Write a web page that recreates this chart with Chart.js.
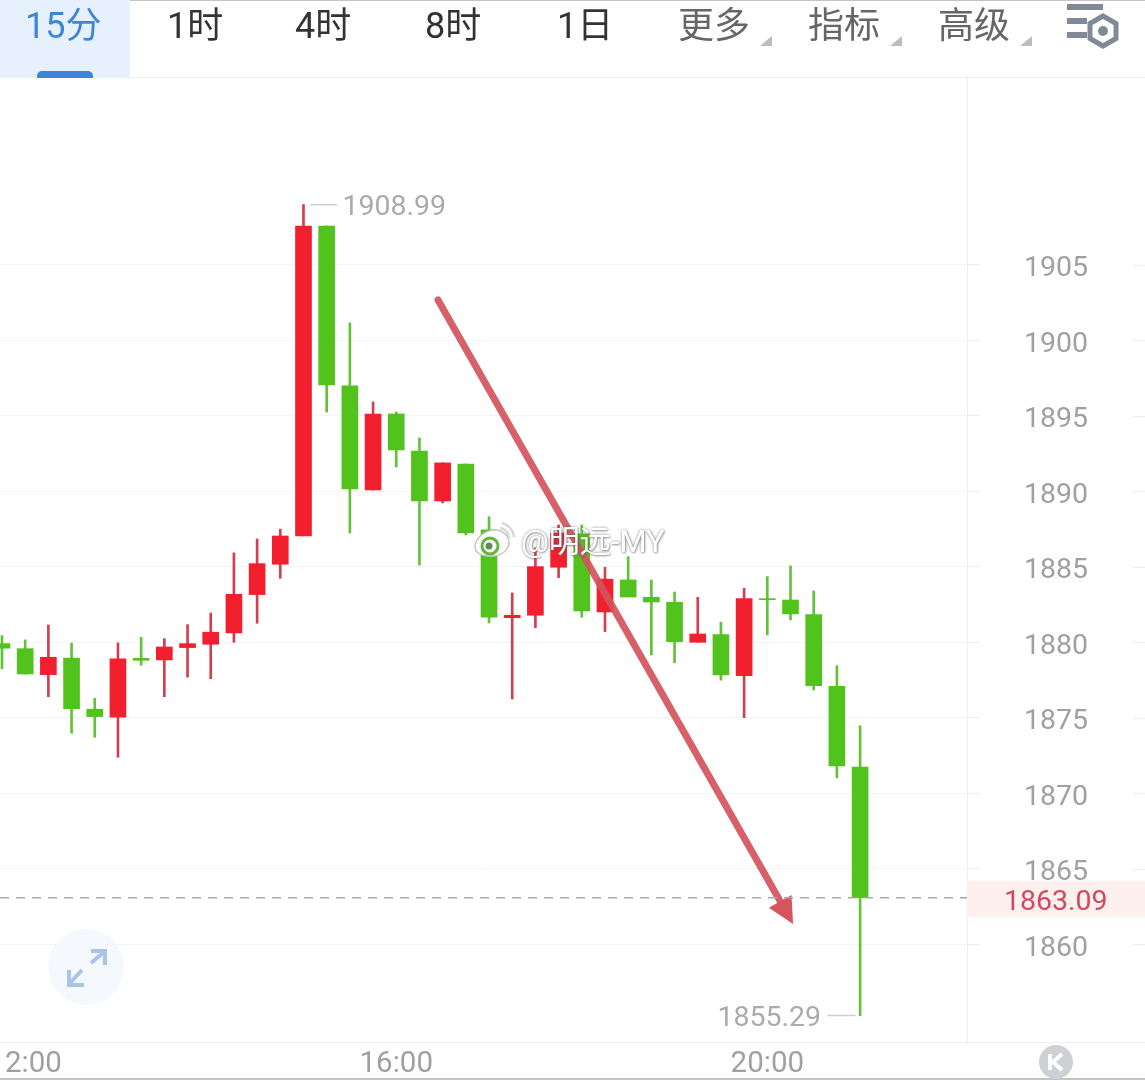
<!DOCTYPE html>
<html lang="zh">
<head>
<meta charset="utf-8">
<title>15分 K线</title>
<script src="https://cdn.jsdelivr.net/npm/chart.js@4"></script>
<style>
  html, body { margin: 0; padding: 0; background: #fff; }
  #page { position: relative; width: 1145px; height: 1080px; overflow: hidden; font-family: Roboto, "Noto Sans CJK SC", sans-serif; }
  canvas { position: absolute; left: 0; top: 0; }
  .tab { position: absolute; top: 0; font-size: 36px; line-height: 52px; font-weight: 400; color: #333; white-space: nowrap; }
  .tab.more { color: #666; }
  .tab.active { color: #3d86d6; }
  #activeBg { position: absolute; left: 0; top: 0; width: 130px; height: 78px; background: #e6f1fd; }
  #activeBar { position: absolute; left: 37px; top: 71px; width: 56px; height: 7px; background: #3f83dc; border-radius: 5px 5px 0 0; }
  #topLine { position: absolute; left: 0; top: 0; width: 1145px; height: 1px; background: #c4c4c4; }
  #bottomLine { position: absolute; left: 0; top: 1078px; width: 1145px; height: 2px; background: #c4c4c4; }
  #mark { position: absolute; left: 521px; top: 522px; font-size: 31px; line-height: 40px; color: #fff; white-space: nowrap;
          text-shadow: 0 0 3px rgba(90,90,90,.7), 1px 1px 2px rgba(90,90,90,.45); }
  svg { position: absolute; left: 0; top: 0; }
</style>
</head>
<body>
<div id="page">
  <canvas id="kline" width="1145" height="1080"></canvas>
  <div id="topLine"></div>
  <div id="bottomLine"></div>
  <div id="activeBg"></div>
  <div id="activeBar"></div>
  <span class="tab active" style="left:25px">15分</span>
  <span class="tab" style="left:167px">1时</span>
  <span class="tab" style="left:295px">4时</span>
  <span class="tab" style="left:425px">8时</span>
  <span class="tab" style="left:557px">1日</span>
  <span class="tab more" style="left:678px">更多</span>
  <span class="tab more" style="left:808px">指标</span>
  <span class="tab more" style="left:938px">高级</span>
  <svg width="1145" height="1080" viewBox="0 0 1145 1080">
    <g fill="#bdbdbd">
      <path d="M772 36V46H760Z"/><path d="M902 36V46H890Z"/><path d="M1032 36V46H1020Z"/>
    </g>
    <g fill="#7f8a96">
      <rect x="1067" y="4" width="36" height="6"/>
      <rect x="1067" y="18" width="20" height="6"/>
      <rect x="1067" y="32" width="20" height="6"/>
    </g>
    <path d="M1103 16L1116 23.500V38.500L1103 46L1090 38.500V23.500Z" fill="none" stroke="#7f8a96" stroke-width="5"/>
    <circle cx="1103" cy="31" r="5" fill="#7f8a96"/>
    <circle cx="86" cy="967" r="38" fill="#f5f8fd"/>
    <g fill="none" stroke="#a9c4e8" stroke-width="4">
      <path d="M91 963L104 952M91 951H105V965"/>
      <path d="M82 970L70 983M69 970V985H84"/>
    </g>
    <circle cx="1056" cy="1062" r="17" fill="#cfd0d4"/>
    <path d="M1050 1054V1070M1062 1054L1053 1062L1062 1070" fill="none" stroke="#fff" stroke-width="4"/>
    <!-- weibo logo of the watermark -->
    <g>
      <path d="M475 547C475 537 487 529 497 530C507 532 511 540 508 547C504 555 495 557 487 556C480 555 475 552 475 547Z" fill="#fff" stroke="#c4c4c4" stroke-width="1.500"/>
      <circle cx="490" cy="546" r="8" fill="#fff" stroke="#63b53d" stroke-width="3"/>
      <circle cx="489" cy="546" r="3.500" fill="#5f8f4a"/>
      <path d="M500 528A10 10 0 0 1 509 538M502 523A16 16 0 0 1 514 537" fill="none" stroke="#d8d8d8" stroke-width="2.500"/>
    </g>
  </svg>
  <span id="mark">@明远-MY</span>
</div>
<script>
var timeLabels = ["12:00", "16:00", "20:00"];
var timeTickIndex = [1, 17, 33];
var priceTicks = [1860, 1865, 1870, 1875, 1880, 1885, 1890, 1895, 1900, 1905];

// 15 minute candles
var opens = [1879.92, 1879.59, 1877.87, 1878.97, 1875.58, 1875.05, 1878.95, 1878.84, 1879.66, 1879.88,
  1880.63, 1883.17, 1885.18, 1887.05, 1907.58, 1896.99, 1890.10, 1895.13, 1892.68, 1889.37,
  1891.82, 1887.45, 1881.64, 1881.80, 1884.98, 1887.19, 1882.02, 1884.14, 1882.99, 1882.66,
  1880.01, 1880.52, 1877.80, 1882.90, 1882.81, 1881.84, 1877.10, 1871.75];
var highs = [1880.45, 1880.17, 1881.16, 1879.95, 1876.30, 1879.97, 1880.34, 1880.25, 1881.18, 1881.95,
  1885.93, 1886.85, 1887.50, 1908.99, 1907.58, 1901.16, 1895.93, 1895.26, 1893.54, 1891.89,
  1891.82, 1888.33, 1883.28, 1886.26, 1887.78, 1887.78, 1884.98, 1885.68, 1884.14, 1883.34,
  1882.99, 1881.34, 1883.59, 1884.36, 1885.07, 1883.41, 1878.46, 1874.47];
var lows = [1878.25, 1877.91, 1876.41, 1873.99, 1873.72, 1872.40, 1878.49, 1876.41, 1877.70, 1877.60,
  1880.01, 1881.27, 1884.25, 1887.05, 1895.26, 1887.25, 1890.10, 1891.62, 1885.13, 1889.24,
  1887.12, 1881.29, 1876.26, 1880.98, 1884.29, 1881.67, 1880.72, 1883.01, 1879.17, 1878.66,
  1880.01, 1877.50, 1875.02, 1880.50, 1881.49, 1876.85, 1871.03, 1855.29];
var closes = [1879.62, 1877.91, 1879.02, 1875.62, 1875.09, 1878.91, 1878.82, 1879.70, 1879.92, 1880.68,
  1883.19, 1885.22, 1887.05, 1907.58, 1897.05, 1890.17, 1895.13, 1892.75, 1889.37, 1891.89,
  1887.25, 1881.67, 1881.80, 1885.02, 1887.25, 1882.09, 1884.19, 1883.01, 1882.68, 1880.05,
  1880.56, 1877.85, 1882.90, 1882.83, 1881.89, 1877.14, 1871.82, 1863.09];

var lastPrice = 1863.09;
var highIndex = 13, highPrice = 1908.99;
var lowIndex = 37, lowPrice = 1855.29;
// hand drawn arrow, in candle index / price
var arrowFrom = [18.80, 1902.68];
var arrowTo = [34.11, 1861.36];

var UP = "#f2202f", DOWN = "#51c31c", UP_WICK = "#d2404f", DOWN_WICK = "#62c23a";
var LABEL = "#a0a0a0";
var FONT = "400 28.5px Roboto";

function isUp(i) { return closes[i] >= opens[i]; }

var overlay = {
  id: "overlay",
  beforeDatasetsDraw: function (chart) {
    var c = chart.ctx, y = chart.scales.y, area = chart.chartArea;
    // axis line along the bottom and short ticks on the right edge
    c.save();
    c.strokeStyle = "#eeeeee";
    c.lineWidth = 1;
    c.beginPath();
    c.moveTo(0, area.bottom + 0.5);
    c.lineTo(1145, area.bottom + 0.5);
    c.moveTo(0, area.top - 0.5);
    c.lineTo(1145, area.top - 0.5);
    priceTicks.forEach(function (p) {
      var py = Math.round(y.getPixelForValue(p)) + 0.5;
      c.moveTo(1133, py);
      c.lineTo(1145, py);
    });
    c.stroke();
    c.restore();
  },
  afterDatasetsDraw: function (chart) {
    var c = chart.ctx, x = chart.scales.x, y = chart.scales.y;
    var x0 = x.getPixelForValue(arrowFrom[0]), y0 = y.getPixelForValue(arrowFrom[1]);
    var x1 = x.getPixelForValue(arrowTo[0]), y1 = y.getPixelForValue(arrowTo[1]);
    var ang = Math.atan2(y1 - y0, x1 - x0);
    var headLen = 26, headHalf = 13;
    var bx = x1 - Math.cos(ang) * headLen, by = y1 - Math.sin(ang) * headLen;

    c.save();
    c.strokeStyle = "rgba(210,84,92,0.92)";
    c.fillStyle = "rgb(214,84,92)";
    c.lineWidth = 7;
    c.lineCap = "round";
    c.beginPath();
    c.moveTo(x0, y0);
    c.lineTo(bx, by);
    c.stroke();
    c.beginPath();
    c.moveTo(x1, y1);
    c.lineTo(bx - Math.sin(ang) * headHalf, by + Math.cos(ang) * headHalf);
    c.lineTo(bx + Math.sin(ang) * headHalf, by - Math.cos(ang) * headHalf);
    c.closePath();
    c.fill();

    // high and low tags
    c.font = FONT;
    c.fillStyle = "#ababab";
    c.strokeStyle = "#cfcfcf";
    c.lineWidth = 1.5;
    c.textBaseline = "middle";
    var hx = x.getPixelForValue(highIndex), hy = y.getPixelForValue(highPrice);
    c.beginPath();
    c.moveTo(hx + 7, hy);
    c.lineTo(hx + 33, hy);
    c.stroke();
    c.textAlign = "left";
    c.fillText(highPrice.toFixed(2), hx + 39, hy + 3);
    var lx = x.getPixelForValue(lowIndex), ly = y.getPixelForValue(lowPrice);
    c.beginPath();
    c.moveTo(lx - 32, ly);
    c.lineTo(lx - 5, ly);
    c.stroke();
    c.textAlign = "right";
    c.fillText(lowPrice.toFixed(2), lx - 39, ly + 3);
    c.restore();
  },
  afterDraw: function (chart) {
    var c = chart.ctx, y = chart.scales.y, area = chart.chartArea;
    var py = y.getPixelForValue(lastPrice);
    c.save();
    c.strokeStyle = "#a8a8a8";
    c.lineWidth = 1.5;
    c.setLineDash([9, 7]);
    c.beginPath();
    c.moveTo(0, py);
    c.lineTo(area.right, py);
    c.stroke();
    c.setLineDash([]);
    c.fillStyle = "#fdf0ee";
    c.fillRect(area.right, py - 17, 1145 - area.right, 36);
    c.font = FONT;
    c.fillStyle = "#d2485c";
    c.textAlign = "left";
    c.textBaseline = "middle";
    c.fillText(lastPrice.toFixed(2), 1004, py + 5);
    c.restore();
  }
};

new Chart(document.getElementById("kline"), {
  type: "bar",
  plugins: [overlay],
  data: {
    datasets: [
      {
        label: "实体",
        order: 1,
        barThickness: 16,
        data: opens.map(function (o, i) { return { x: i, y: [o, closes[i]] }; }),
        backgroundColor: opens.map(function (o, i) { return isUp(i) ? UP : DOWN; })
      },
      {
        label: "影线",
        order: 2,
        barThickness: 2,
        data: lows.map(function (l, i) { return { x: i, y: [l, highs[i]] }; }),
        backgroundColor: lows.map(function (l, i) { return isUp(i) ? UP_WICK : DOWN_WICK; })
      }
    ]
  },
  options: {
    responsive: false,
    animation: false,
    devicePixelRatio: 1,
    layout: { padding: { top: 78, left: 0, right: 0, bottom: 0 } },
    plugins: { legend: { display: false }, tooltip: { enabled: false } },
    datasets: { bar: { grouped: false } },
    scales: {
      x: {
        type: "linear",
        offset: false,
        min: -0.086,
        max: 41.61,
        grid: { display: false },
        border: { display: false },
        afterBuildTicks: function (scale) {
          scale.ticks = timeTickIndex.map(function (v) { return { value: v }; });
        },
        afterFit: function (scale) {
          scale.height = 38;
          scale.paddingLeft = 0;
          scale.paddingRight = 0;
        },
        ticks: {
          autoSkip: false,
          maxRotation: 0,
          padding: 0,
          color: LABEL,
          font: { family: "Roboto", size: 29.5, weight: "400", lineHeight: 1 },
          callback: function (v) { return timeLabels[timeTickIndex.indexOf(v)]; }
        }
      },
      y: {
        position: "right",
        min: 1853.54,
        max: 1917.38,
        grid: { color: "#f4f4f4", tickLength: 13, tickColor: "#eeeeee" },
        border: { display: true, color: "#eeeeee" },
        afterBuildTicks: function (scale) {
          scale.ticks = priceTicks.map(function (v) { return { value: v }; });
        },
        afterFit: function (scale) {
          scale.width = 178;
          scale.paddingTop = 0;
          scale.paddingBottom = 0;
        },
        ticks: {
          padding: 44,
          labelOffset: 4,
          color: LABEL,
          font: { family: "Roboto", size: 28.5, weight: "400" },
          callback: function (v) { return String(v); }
        }
      }
    }
  }
});
</script>
</body>
</html>
